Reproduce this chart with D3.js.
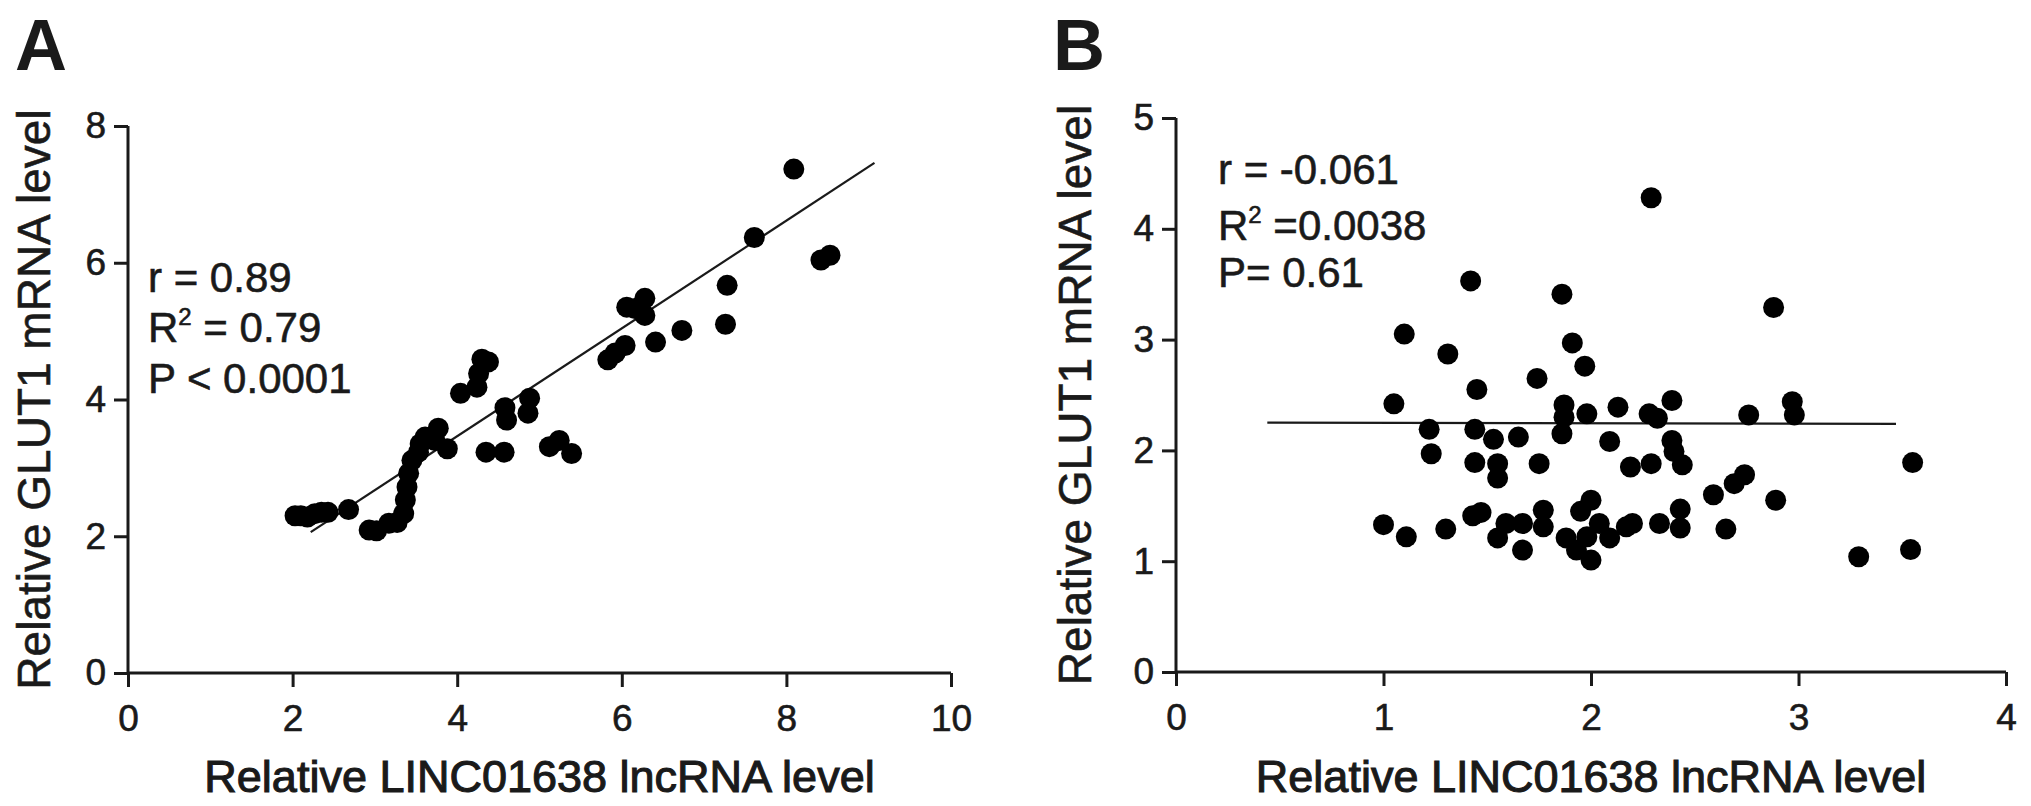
<!DOCTYPE html>
<html>
<head>
<meta charset="utf-8">
<script src="https://cdn.jsdelivr.net/npm/d3@7/dist/d3.min.js"></script>
<style>
  html, body { margin: 0; padding: 0; background: #fff; }
  svg { display: block; }
  text { font-family: "Liberation Sans", Arial, sans-serif; fill: #1a1a1a; }
</style>
</head>
<body>
<svg id="chart" width="2031" height="806"></svg>
<script>
// ---------- Panel A data ----------
const aX = [2.03, 2.10, 2.18, 2.27, 2.35, 2.43, 2.68,
  2.93, 3.02, 3.17, 3.27,
  3.35, 3.37, 3.39, 3.41, 3.45, 3.53, 3.61, 3.73, 3.77, 3.88, 3.55,
  4.04, 4.24, 4.26, 4.30, 4.38,
  4.35, 4.57,
  4.58, 4.60, 4.88, 4.86,
  5.12, 5.24, 5.39,
  5.83, 5.92, 6.04,
  6.06, 6.16, 6.28, 6.28,
  6.41, 6.73, 7.26, 7.28, 7.61, 8.09, 8.42, 8.53];
const aY = [2.30, 2.30, 2.28, 2.33, 2.35, 2.35, 2.39,
  2.09, 2.08, 2.19, 2.20,
  2.33, 2.53, 2.72, 2.92, 3.11, 3.23, 3.45, 3.40, 3.58, 3.28, 3.35,
  4.09, 4.18, 4.38, 4.59, 4.55,
  3.23, 3.23,
  3.88, 3.70, 4.02, 3.80,
  3.31, 3.40, 3.21,
  4.58, 4.68, 4.79,
  5.35, 5.33, 5.48, 5.23,
  4.84, 5.01, 5.10, 5.67, 6.37, 7.37, 6.04, 6.11];
const aFitX = [2.22, 9.07];
const aFitY = [2.06, 7.46];
const aXTicks = [0, 2, 4, 6, 8, 10];
const aYTicks = [0, 2, 4, 6, 8];
const aStats = ["r = 0.89", "R|2| = 0.79", "P < 0.0001"];

// ---------- Panel B data ----------
const bX = [1.42, 1.86, 2.29, 2.88,
  1.10, 1.31, 1.91, 1.97, 1.74, 1.45, 1.05, 1.87, 1.87, 1.98, 2.13, 2.28, 2.32, 2.39,
  1.22, 1.44, 1.53, 1.65, 1.86, 2.09,
  1.23, 1.44, 1.55, 1.55, 1.75, 2.19, 2.29,
  2.76, 2.97, 2.98, 2.39, 2.40, 2.44, 3.55, 2.74, 2.69, 2.59, 2.89, 2.43, 2.43, 2.65, 3.29, 3.54,
  1.00, 1.11, 1.30, 1.43, 1.47, 1.55, 1.59, 1.67, 1.67, 1.77, 1.77, 1.95, 2.00, 1.88, 1.93, 2.00, 1.98, 2.04, 2.09, 2.17, 2.20, 2.33];
const bY = [3.53, 3.41, 4.28, 3.29,
  3.05, 2.87, 2.97, 2.76, 2.65, 2.55, 2.42, 2.41, 2.30, 2.33, 2.39, 2.33, 2.29, 2.45,
  2.19, 2.19, 2.10, 2.12, 2.15, 2.08,
  1.97, 1.89, 1.88, 1.75, 1.88, 1.85, 1.88,
  2.32, 2.44, 2.32, 2.09, 1.99, 1.87, 1.89, 1.78, 1.70, 1.60, 1.55, 1.47, 1.30, 1.29, 1.04, 1.105,
  1.33, 1.22, 1.29, 1.41, 1.44, 1.21, 1.34, 1.34, 1.10, 1.46, 1.31, 1.45, 1.55, 1.21, 1.10, 1.01, 1.22, 1.34, 1.21, 1.31, 1.34, 1.34];
const bFitX = [0.44, 3.47];
const bFitY = [2.25, 2.24];
const bXTicks = [0, 1, 2, 3, 4];
const bYTicks = [0, 1, 2, 3, 4, 5];
const bStats = ["r = -0.061", "R|2| =0.0038", "P= 0.61"];

const yLabel = "Relative GLUT1 mRNA level";
const xLabel = "Relative LINC01638 lncRNA level";

const svg = d3.select("#chart");
const ink = "#1a1a1a";

function panel(cfg) {
  const x = d3.scaleLinear().domain(cfg.xDomain).range(cfg.xRange);
  const y = d3.scaleLinear().domain(cfg.yDomain).range(cfg.yRange);
  const g = svg.append("g");

  // axes
  const xa = g.append("g").attr("transform", `translate(0,${cfg.yRange[0]})`)
    .call(d3.axisBottom(x).tickValues(cfg.xTicks).tickFormat(d3.format("d"))
      .tickSizeInner(14).tickSizeOuter(0).tickPadding(18));
  const ya = g.append("g").attr("transform", `translate(${cfg.xRange[0]},0)`)
    .call(d3.axisLeft(y).tickValues(cfg.yTicks).tickFormat(d3.format("d"))
      .tickSizeInner(14).tickSizeOuter(0).tickPadding(8));
  [xa, ya].forEach(a => {
    a.select(".domain").attr("stroke", ink).attr("stroke-width", 3);
    a.selectAll(".tick line").attr("stroke", ink).attr("stroke-width", 3);
    a.selectAll(".tick text").attr("font-size", 37).attr("fill", ink)
      .attr("stroke", ink).attr("stroke-width", 0.6)
      .style("font-family", '"Liberation Sans", Arial, sans-serif');
  });
  xa.select(".domain").attr("d", `M${cfg.xRange[0]},0H${cfg.xRange[1]}`);
  ya.select(".domain").attr("d", `M0,${cfg.yRange[0]}V${cfg.yRange[1]}`);

  // regression line
  g.append("line")
    .attr("x1", x(cfg.fitX[0])).attr("y1", y(cfg.fitY[0]))
    .attr("x2", x(cfg.fitX[1])).attr("y2", y(cfg.fitY[1]))
    .attr("stroke", ink).attr("stroke-width", 2.2);

  // points
  g.append("g").selectAll("circle")
    .data(cfg.xs.map((v, i) => [v, cfg.ys[i]]))
    .join("circle")
    .attr("cx", d => x(d[0])).attr("cy", d => y(d[1]))
    .attr("r", 10.5).attr("fill", "#000");

  // stats text
  cfg.stats.forEach((s, i) => {
    const t = g.append("text")
      .attr("x", cfg.statX).attr("y", cfg.statY[i])
      .attr("font-size", 42).attr("stroke", ink).attr("stroke-width", 0.6);
    const parts = s.split("|");
    if (parts.length === 3) {
      t.append("tspan").text(parts[0]);
      t.append("tspan").text(parts[1]).attr("font-size", 24).attr("dy", -17);
      t.append("tspan").text(parts[2]).attr("dy", 17);
    } else {
      t.text(s);
    }
  });

  // axis labels
  g.append("text")
    .attr("x", (cfg.xRange[0] + cfg.xRange[1]) / 2).attr("y", cfg.xLabelY)
    .attr("text-anchor", "middle").attr("font-size", 45)
    .attr("stroke", ink).attr("stroke-width", 1.1)
    .text(xLabel);
  const cy = (cfg.yRange[0] + cfg.yRange[1]) / 2;
  g.append("text")
    .attr("transform", `translate(${cfg.yLabelX},${cy}) rotate(-90)`)
    .attr("text-anchor", "middle").attr("font-size", 46)
    .attr("stroke", ink).attr("stroke-width", 0.6)
    .text(yLabel);

  // panel letter
  g.append("text")
    .attr("x", cfg.letterX).attr("y", 70)
    .attr("font-size", 72).attr("font-weight", "bold")
    .text(cfg.letter);
}

panel({
  xs: aX, ys: aY, fitX: aFitX, fitY: aFitY,
  xDomain: [0, 10], yDomain: [0, 8],
  xRange: [128, 951], yRange: [673, 126],
  xTicks: aXTicks, yTicks: aYTicks, stats: aStats,
  statX: 148, statY: [292, 342, 393],
  xLabelY: 792, yLabelX: 50,
  letter: "A", letterX: 15
});

panel({
  xs: bX, ys: bY, fitX: bFitX, fitY: bFitY,
  xDomain: [0, 4], yDomain: [0, 5],
  xRange: [1176, 2006], yRange: [672, 118],
  xTicks: bXTicks, yTicks: bYTicks, stats: bStats,
  statX: 1218, statY: [184, 240, 287],
  xLabelY: 792, yLabelX: 1091,
  letter: "B", letterX: 1053
});
</script>
</body>
</html>
